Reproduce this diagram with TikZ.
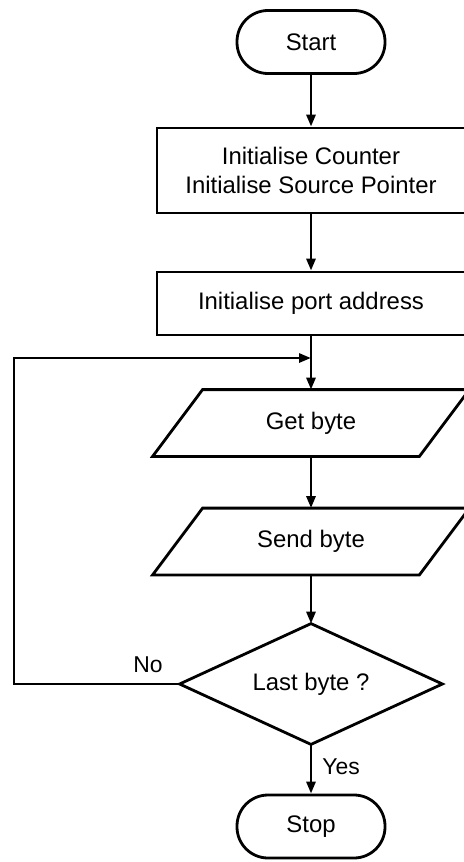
\documentclass[tikz,border=0pt]{standalone}
\usepackage{fontspec}
\setmainfont{Liberation Sans}
\usetikzlibrary{arrows.meta,calc}
\begin{document}
\begin{tikzpicture}[x=1bp,y=-1bp,
 line width=2.8bp,
 every node/.style={font=\fontsize{24}{29}\selectfont, align=center, inner sep=0pt},
 term/.style={draw, rounded corners=31bp, minimum width=148bp, minimum height=63bp},
 proc/.style={draw, minimum width=308bp},
 io/.style={minimum width=264bp, minimum height=64bp},
 decbox/.style={minimum width=260bp, minimum height=118bp},
 arr/.style={-{Triangle[length=12bp,width=9bp]}},
 lbl/.style={font=\fontsize{23}{27}\selectfont}]
\useasboundingbox (0,0) rectangle (464,862);
\node[term] (start) at (311,42) {Start};
\node[proc, minimum height=85bp] (init) at (311,170.5) {Initialise Counter\\Initialise Source Pointer};
\node[proc, minimum height=63bp] (port) at (311,303.5) {Initialise port address};
\node[io] (get) at (311,423) {Get byte};
\node[io] (send) at (311,541.5) {Send byte};
\node[decbox] (dec) at (311,684) {Last byte ?};
\node[term] (stop) at (311,826.5) {Stop};
\coordinate (join) at (311,358);
\coordinate (lb) at (14,684);
\coordinate (lt) at (14,358);
% outlines
\foreach \n in {get,send}{
  \draw[line join=miter] ($(\n.north west)+(25,0)$) -- ($(\n.north east)+(25,0)$)
     -- ($(\n.south east)+(-25,0)$) -- ($(\n.south west)+(-25,0)$) -- cycle;
}
\draw[line join=miter] (dec.north) -- (dec.east) -- (dec.south) -- (dec.west) -- cycle;
% connectors
\draw[arr] (start) -- (init);
\draw[arr] (init) -- (port);
\draw[arr] (port) -- (get);
\draw[arr] (get) -- (send);
\draw[arr] (send) -- (dec.north);
\draw[arr] (dec.south) -- (stop) node[lbl, pos=0.45, right=10bp] {Yes};
\draw[arr] (dec.west) -- (lb) -- (lt) -- (join);
\node[lbl] (no) at (148,665) {No};
\end{tikzpicture}
\end{document}
